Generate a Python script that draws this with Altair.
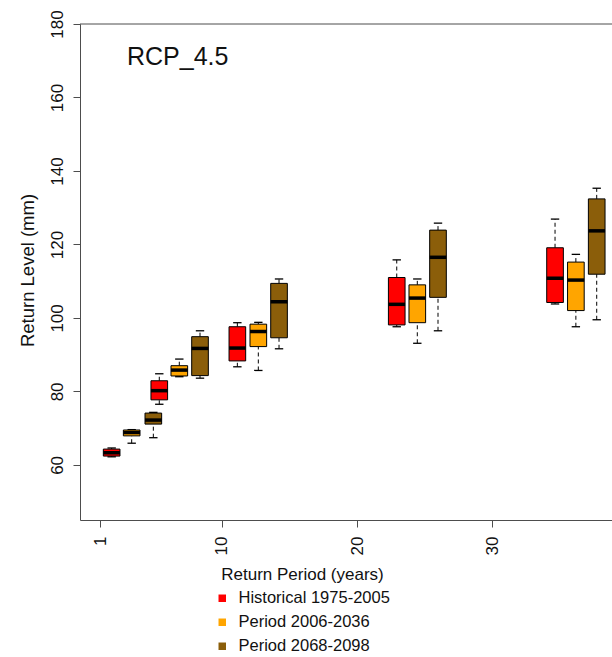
import altair as alt
import pandas as pd

periods = ["Historical 1975-2005", "Period 2006-2036", "Period 2068-2098"]
colors = ["#FF0000", "#FFA500", "#8B5E0A"]

# x positions (return period axis units) of each box
hist_pos = [1.86, 5.38, 11.15, 22.93, 34.63]
p1_pos = [3.34, 6.86, 12.70, 24.45, 36.17]
p2_pos = [4.94, 8.39, 14.23, 25.98, 37.71]

# box statistics (mm)
hist_lower = [62.2, 76.5, 86.7, 97.6, 103.8]
hist_q1 = [62.4, 77.7, 88.3, 98.1, 104.2]
hist_med = [63.3, 80.2, 91.8, 103.7, 110.8]
hist_q3 = [64.3, 82.9, 97.6, 111.0, 119.1]
hist_upper = [64.6, 84.8, 98.7, 115.8, 126.9]

p1_lower = [65.9, 84.0, 85.7, 93.1, 97.6]
p1_q1 = [67.9, 84.2, 92.2, 98.7, 102.0]
p1_med = [68.8, 85.8, 96.3, 105.4, 110.3]
p1_q3 = [69.5, 87.0, 98.3, 109.0, 115.2]
p1_upper = [69.6, 88.8, 98.8, 110.6, 117.3]

p2_lower = [67.4, 83.6, 91.6, 96.5, 99.5]
p2_q1 = [71.1, 84.3, 94.6, 105.6, 111.9]
p2_med = [72.2, 91.7, 104.4, 116.5, 123.7]
p2_q3 = [74.1, 94.9, 109.4, 123.9, 132.4]
p2_upper = [74.3, 96.5, 110.6, 125.8, 135.3]

x_ticks = [1, 10, 20, 30]
y_ticks = [60, 80, 100, 120, 140, 160, 180]

series = [
    (periods[0], hist_pos, hist_lower, hist_q1, hist_med, hist_q3, hist_upper),
    (periods[1], p1_pos, p1_lower, p1_q1, p1_med, p1_q3, p1_upper),
    (periods[2], p2_pos, p2_lower, p2_q1, p2_med, p2_q3, p2_upper),
]
rows = []
for name, pos, lo, q1, md, q3, hi in series:
    for i in range(len(pos)):
        rows.append(dict(period=name, pos=pos[i], lower=lo[i], q1=q1[i],
                         median=md[i], q3=q3[i], upper=hi[i]))
df = pd.DataFrame(rows)

FONT = "Liberation Sans"
AX = "#4d4d4d"

xscale = alt.Scale(domain=[-0.48, 38.84], nice=False, zero=False)
yscale = alt.Scale(domain=[45, 180], nice=False, zero=False)

xaxis = alt.Axis(values=x_ticks, labelAngle=270, labelAlign="right", labelBaseline="middle",
                 tickSize=7, labelPadding=9, grid=False, title="Return Period (years)",
                 titleFontSize=17, titleFontWeight="normal", titleX=222, titleY=59,
                 titleAlign="center", titleBaseline="alphabetic", labelFontSize=17)
yaxis = alt.Axis(values=y_ticks, labelAngle=270, labelAlign="center", labelBaseline="alphabetic",
                 tickSize=7, labelPadding=11, grid=False, title="Return Level (mm)",
                 titleFontSize=18.5, titleFontWeight="normal", titleAngle=270,
                 titleX=-47, titleY=246, titleAlign="center", titleBaseline="alphabetic",
                 labelFontSize=17)


def X(f):
    return alt.X(f, type="quantitative", scale=xscale, axis=xaxis)


def Y(f):
    return alt.Y(f, type="quantitative", scale=yscale, axis=yaxis)


base = alt.Chart(df).transform_calculate(
    xl="datum.pos - 0.615", xr="datum.pos + 0.615",
    cl="datum.pos - 0.31", cr="datum.pos + 0.31")

whisk_up = base.mark_rule(color="black", strokeWidth=1, strokeDash=[4, 3]).encode(
    x=X("pos"), y=Y("q3"), y2="upper:Q")
whisk_lo = base.mark_rule(color="black", strokeWidth=1, strokeDash=[4, 3]).encode(
    x=X("pos"), y=Y("lower"), y2="q1:Q")
cap_up = base.mark_rule(color="black", strokeWidth=1.3).encode(
    x=X("cl"), x2="cr:Q", y=Y("upper"))
cap_lo = base.mark_rule(color="black", strokeWidth=1.3).encode(
    x=X("cl"), x2="cr:Q", y=Y("lower"))
boxes = base.mark_rect(stroke="black", strokeWidth=1).encode(
    x=X("xl"), x2="xr:Q", y=Y("q1"), y2="q3:Q",
    fill=alt.Fill("period:N", scale=alt.Scale(domain=periods, range=colors),
                  legend=alt.Legend(orient="none", legendX=134, legendY=566, title=None,
                                    symbolType="square", symbolSize=56,
                                    symbolStrokeWidth=0, labelFontSize=16.5,
                                    labelFont=FONT, labelColor="#111",
                                    rowPadding=7, labelOffset=8, padding=0)))
medians = base.mark_rule(color="black", strokeWidth=3.5).encode(
    x=X("xl"), x2="xr:Q", y=Y("median"))

top_line = alt.Chart(pd.DataFrame({"v": [180]})).mark_rule(color=AX, strokeWidth=1).encode(
    y=Y("v"))

label = alt.Chart(pd.DataFrame({"t": ["RCP_4.5"]})).mark_text(
    font=FONT, fontSize=25, align="left", baseline="alphabetic", color="#111").encode(
    x=alt.value(47), y=alt.value(41), text="t:N")

chart = alt.layer(whisk_up, whisk_lo, cap_up, cap_lo, boxes, medians, top_line, label).properties(
    width=532, height=496,
    padding={"left": 80, "top": 24, "right": 0, "bottom": 137},
    autosize=alt.AutoSizeParams(type="none"),
).configure_view(stroke=None).configure_axis(
    labelFont=FONT, titleFont=FONT, domainColor=AX, tickColor=AX,
    labelColor="#111", titleColor="#111", domainWidth=1, tickWidth=1
)

chart.save("out.html", embed_options={"renderer": "svg", "actions": False})
